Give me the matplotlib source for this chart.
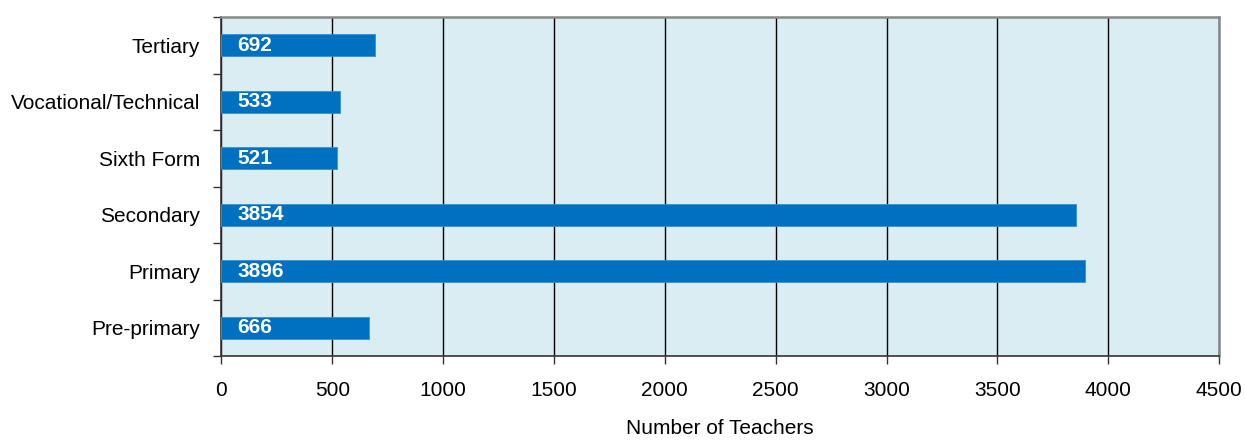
import matplotlib
matplotlib.use("Agg")
import matplotlib.pyplot as plt
from matplotlib.ticker import FixedLocator

categories = ["Pre-primary", "Primary", "Secondary", "Sixth Form", "Vocational/Technical", "Tertiary"]
values = [666, 3896, 3854, 521, 533, 692]
xticks = [0, 500, 1000, 1500, 2000, 2500, 3000, 3500, 4000, 4500]

plt.rcParams['font.family'] = ['Liberation Sans', 'DejaVu Sans']

fig = plt.figure(figsize=(12.45, 4.41), dpi=100)
ax = fig.add_axes([221.5/1245, 1-356/441, (1219-221.5)/1245, (356-17)/441])
ax.set_facecolor("#DAEDF3")

ypos = list(range(len(categories)))
ax.barh(ypos, values, height=0.39, color="#0070C0", edgecolor="#3A8FD0", linewidth=0.6, zorder=3)
for y, v in zip(ypos, values):
    ax.text(70, y, str(v), color="white", fontweight="bold", fontsize=15, va="center", ha="left", zorder=4)

ax.set_xlim(0, 4500)
ax.set_ylim(-0.5, len(categories) - 0.5)
ax.set_xticks(xticks)
ax.set_xticklabels([str(t) for t in xticks], fontsize=15)
ax.set_yticks(ypos)
ax.set_yticklabels(categories, fontsize=15)
ax.tick_params(axis='y', length=0, pad=15.5)
ax.yaxis.set_minor_locator(FixedLocator([i - 0.5 for i in range(len(categories) + 1)]))
ax.tick_params(axis='y', which='minor', length=6, width=1, color="#333333")
ax.tick_params(axis='x', length=6, width=1, color="#333333", pad=12)
ax.grid(axis='x', color="black", linewidth=1, zorder=1)
ax.set_axisbelow(True)

for s in ["left", "bottom"]:
    ax.spines[s].set_color("#333333")
    ax.spines[s].set_linewidth(1.2)
for s in ["top", "right"]:
    ax.spines[s].set_color("#888888")
    ax.spines[s].set_linewidth(1.8)

ax.set_xlabel("Number of Teachers", fontsize=15, labelpad=14)

fig.savefig("out.png", dpi=100)
